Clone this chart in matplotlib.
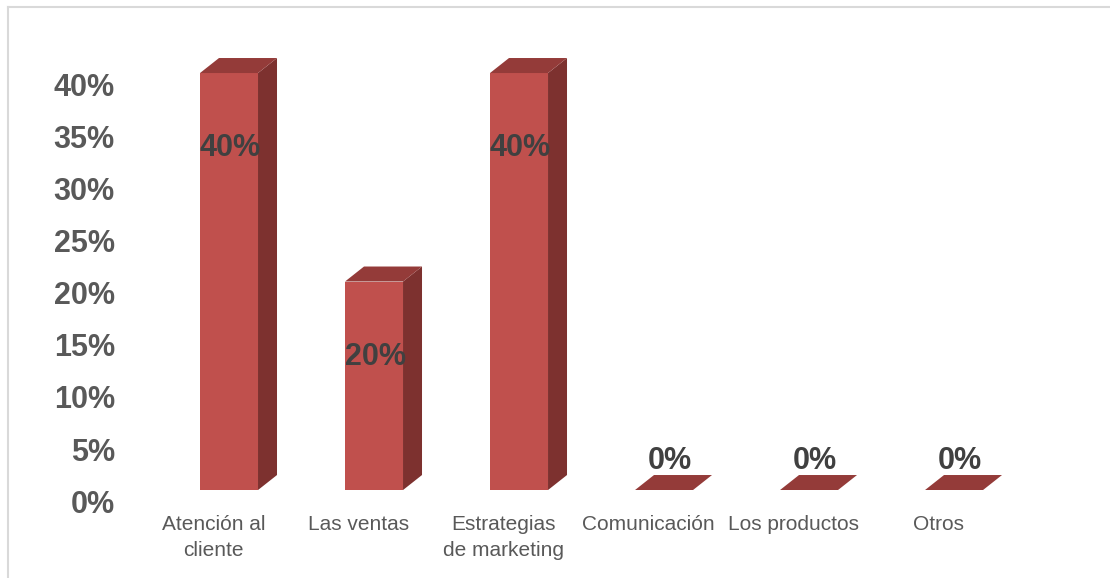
import matplotlib.pyplot as plt
from matplotlib.patches import Polygon
from matplotlib.lines import Line2D
from matplotlib.transforms import ScaledTranslation

categories = ["Atención al\ncliente", "Las ventas", "Estrategias\nde marketing",
              "Comunicación", "Los productos", "Otros"]
values = [0.40, 0.20, 0.40, 0.0, 0.0, 0.0]
value_labels = ["40%", "20%", "40%", "0%", "0%", "0%"]
yticks = [0.0, 0.05, 0.10, 0.15, 0.20, 0.25, 0.30, 0.35, 0.40]
ytick_labels = ["0%", "5%", "10%", "15%", "20%", "25%", "30%", "35%", "40%"]

front_col = "#C0504D"
side_col = "#7D312F"
top_col = "#943B39"

plt.rcParams['font.family'] = ['Liberation Sans', 'DejaVu Sans']

fig = plt.figure(figsize=(11.1, 5.78), dpi=100)
ax = fig.add_axes([0.141, 0.1522, 0.7838, 0.7936])
ax.set_xlim(-0.5, 5.5)
ax.set_ylim(0, 0.44)

# fake 3d depth: horizontal offset in category units, vertical in value units
w = 0.2
dx = 0.131
dy = 0.0144

for i, v in enumerate(values):
    x0, x1 = i - w, i + w
    if v > 0:
        ax.add_patch(Polygon([(x0, 0), (x1, 0), (x1, v), (x0, v)],
                             closed=True, facecolor=front_col, edgecolor='none'))
        ax.add_patch(Polygon([(x1, 0), (x1 + dx, dy), (x1 + dx, v + dy), (x1, v)],
                             closed=True, facecolor=side_col, edgecolor='none'))
    ax.add_patch(Polygon([(x0, v), (x1, v), (x1 + dx, v + dy), (x0 + dx, v + dy)],
                         closed=True, facecolor=top_col, edgecolor='none'))

# data labels
for i, (v, lab) in enumerate(zip(values, value_labels)):
    if v > 0:
        ax.annotate(lab, (i, v), xytext=(1, -54), textcoords='offset points',
                    ha='center', va='center', fontsize=22, fontweight='bold',
                    color='#404040')
    else:
        ax.annotate(lab, (i, v), xytext=(4, 21), textcoords='offset points',
                    ha='center', va='center', fontsize=22, fontweight='bold',
                    color='#404040')

ax.set_yticks(yticks)
ax.set_yticklabels(ytick_labels, fontsize=22, fontweight='bold', color='#595959')
ax.tick_params(axis='y', length=0, pad=30)
for lab in ax.get_yticklabels():
    lab.set_transform(lab.get_transform() + ScaledTranslation(0, -8 / 72, fig.dpi_scale_trans))

ax.set_xticks(range(len(categories)))
ax.set_xticklabels(categories, fontsize=15, color='#595959', linespacing=1.45)
ax.tick_params(axis='x', length=0, pad=18)
for lab in ax.get_xticklabels():
    lab.set_transform(lab.get_transform() + ScaledTranslation(-11 / 72, 0, fig.dpi_scale_trans))

for s in ax.spines.values():
    s.set_visible(False)
ax.patch.set_visible(False)

# chart area border (top and left edges)
fig.add_artist(Line2D([8 / 1110, 1.0], [1 - 7 / 578, 1 - 7 / 578],
                      transform=fig.transFigure, color='#D9D9D9', lw=1.5))
fig.add_artist(Line2D([8 / 1110, 8 / 1110], [0.0, 1 - 7 / 578],
                      transform=fig.transFigure, color='#D9D9D9', lw=1.5))

fig.savefig("out.png", dpi=100)
